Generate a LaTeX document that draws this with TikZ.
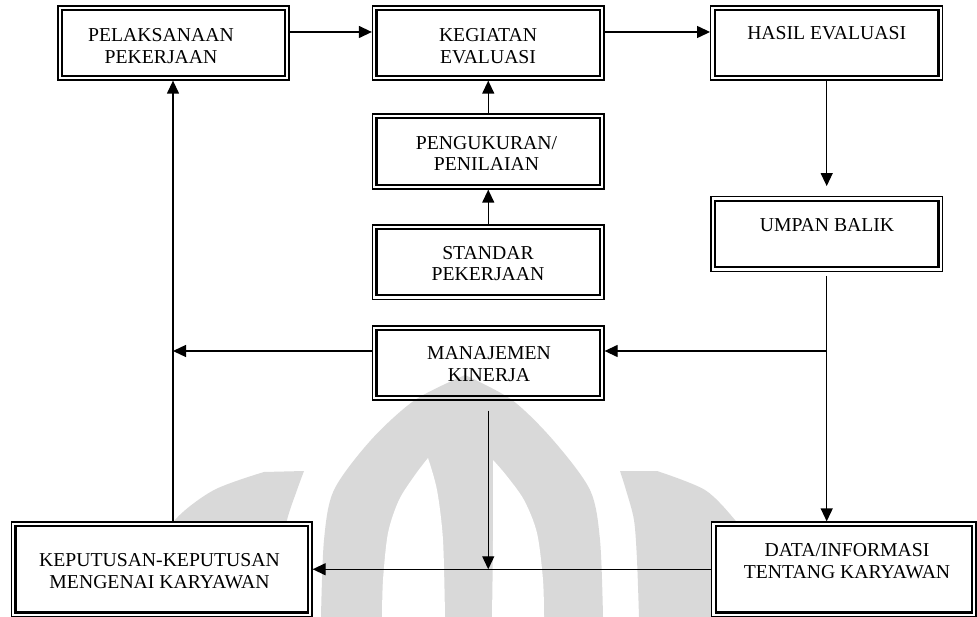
\documentclass[tikz,border=0pt]{standalone}
\usepackage{fontspec}
\setmainfont{Liberation Serif}
\usetikzlibrary{arrows.meta}
\definecolor{wmgray}{RGB}{217,217,217}
\newcommand{\boxtext}[1]{\begin{tabular}[t]{@{}c@{}}#1\end{tabular}}
\begin{document}
\begin{tikzpicture}[x=1pt,y=-1pt,
  box/.style={draw, line width=1.3pt, inner sep=0pt, rectangle},
  wbox/.style={box, fill=white},
  innerline/.style={line width=2.5pt},
  txt/.style={inner sep=0pt, anchor=base, font=\fontsize{19.7}{21.7}\selectfont},
  conn/.style={line width=1.3pt},
  arr/.style={conn, -{Triangle[length=13pt,width=12pt]}},
  wm/.style={fill=wmgray},
  hollow/.style={fill=white}]
\fill[white] (0,0) rectangle (977,617);
\useasboundingbox (0,0) rectangle (977,617);
% watermark
\fill[wm] plot[smooth] coordinates {(321,617) (324,540) (334,490) (371,440) (415,400) (465,375)}
  -- plot[smooth] coordinates {(465,375) (512,400) (553,440) (590,490) (600,540) (603,617)} -- cycle;
\fill[hollow] plot[smooth] coordinates {(382,617) (383,580) (388,533) (399,500) (415,475) (428,458)}
  -- plot[smooth] coordinates {(428,458) (437,490) (443,540) (445,617)} -- cycle;
\fill[hollow] plot[smooth] coordinates {(492,617) (493,540) (493,490) (493,460)}
  -- plot[smooth] coordinates {(493,460) (506,475) (524,500) (537,533) (543,580) (544,617)} -- cycle;
\fill[wm] plot[smooth] coordinates {(148,617) (155,560) (175,520) (214,490) (264,472)}
  -- (304,471) -- plot[smooth] coordinates {(304,471) (297,490) (287,520) (280,560) (277,617)} -- cycle;
\fill[wm] plot[smooth] coordinates {(639,617) (637,560) (634,520) (626,490) (620,471)}
  -- (657,471) -- plot[smooth] coordinates {(657,471) (705,490) (735,520) (752,545) (765,617)} -- cycle;
% boxes
\node[box, minimum width=231pt, minimum height=74pt] (b1) at (173.5,43) {};
\node[box, minimum width=231.5pt, minimum height=74pt] (b2) at (488.25,43) {};
\node[box, minimum width=232pt, minimum height=74pt] (b3) at (826.7,43) {};
\node[box, minimum width=231.5pt, minimum height=75pt] (b4) at (488.25,151.5) {};
\node[box, minimum width=231.5pt, minimum height=74.3pt] (b5) at (488.25,262.2) {};
\node[box, minimum width=231.7pt, minimum height=74.6pt] (b6) at (826.7,234) {};
\node[box, minimum width=231.5pt, minimum height=74pt] (b7) at (488.25,363) {};
\node[wbox, minimum width=300.5pt, minimum height=94.5pt] (b8) at (161.75,569.25) {};
\node[wbox, minimum width=264.3pt, minimum height=94.5pt] (b9) at (843.85,569.25) {};
\foreach \n in {b1,b2,b3,b4,b5,b6,b7,b8,b9}
  \draw[innerline] ([shift={(4.8pt,-4.8pt)}]\n.north west) rectangle ([shift={(-4.8pt,4.8pt)}]\n.south east);
% texts
\node[txt] (t1) at (161,42) {\boxtext{PELAKSANAAN\\PEKERJAAN}};
\node[txt] (t2) at (488,42) {\boxtext{KEGIATAN\\EVALUASI}};
\node[txt] (t3) at (826.7,40) {HASIL EVALUASI};
\node[txt] (t4) at (486.5,149.3) {\boxtext{PENGUKURAN/\\PENILAIAN}};
\node[txt] (t5) at (488,259.3) {\boxtext{STANDAR\\PEKERJAAN}};
\node[txt] (t6) at (827,231.7) {UMPAN BALIK};
\node[txt] (t7) at (489,360) {\boxtext{MANAJEMEN\\KINERJA}};
\node[txt] (t8) at (159.5,566.7) {\boxtext{KEPUTUSAN-KEPUTUSAN\\MENGENAI KARYAWAN}};
\node[txt] (t9) at (847,556.7) {\boxtext{DATA/INFORMASI\\TENTANG KARYAWAN}};
% connectors
\coordinate (j1) at (826.7,351);
\coordinate (j2) at (173,351);
\draw[arr] ([yshift=11pt]b1.east) -- ([yshift=11pt]b2.west);
\draw[arr] ([yshift=11pt]b2.east) -- ([yshift=11pt]b3.west);
\draw[arr] (b5.north) -- (b4.south);
\draw[arr] (b4.north) -- (b2.south);
\draw[arr] (b3.south) -- ([yshift=10pt]b6.north);
\draw[conn] ([yshift=-4pt]b6.south) -- (j1);
\draw[arr] (j1) -- (j1 |- b9.north);
\draw[arr] (j1) -- (j1 -| b7.east);
\draw[arr] (b7.west |- j2) -- (j2);
\draw[arr] (b8.north -| j2) -- (b1.south -| j2);
\draw[arr] ([yshift=-10pt]b7.south) -- (b7.south |- b8.east);
\draw[arr] (b9.west) -- (b8.east);
\end{tikzpicture}
\end{document}
